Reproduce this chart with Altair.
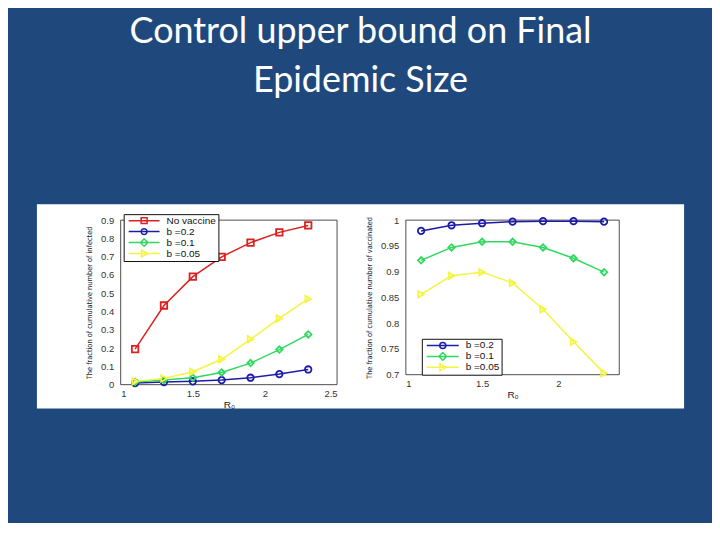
import altair as alt
import pandas as pd

# ---------------- data ----------------
R0 = [1.1, 1.3, 1.5, 1.7, 1.9, 2.1, 2.3]

left_names = ["No vaccine", "b =0.2", "b =0.1", "b =0.05"]
inf_none = [0.194, 0.433, 0.591, 0.699, 0.777, 0.833, 0.871]
inf_b02 = [0.009, 0.014, 0.018, 0.025, 0.038, 0.058, 0.083]
inf_b01 = [0.014, 0.025, 0.038, 0.067, 0.118, 0.192, 0.275]
inf_b005 = [0.018, 0.034, 0.071, 0.139, 0.248, 0.362, 0.469]

right_names = ["b =0.2", "b =0.1", "b =0.05"]
vac_b02 = [0.979, 0.990, 0.994, 0.997, 0.998, 0.998, 0.997]
vac_b01 = [0.922, 0.947, 0.958, 0.958, 0.947, 0.926, 0.899]
vac_b005 = [0.856, 0.892, 0.899, 0.878, 0.827, 0.764, 0.703]

left_xticks = [1, 1.5, 2, 2.5]
left_yticks = [0, 0.1, 0.2, 0.3, 0.4, 0.5, 0.6, 0.7, 0.8, 0.9]
right_xticks = [1, 1.5, 2]
right_yticks = [0.7, 0.75, 0.8, 0.85, 0.9, 0.95, 1]

# ---------------- styles ----------------
RED, BLUE, GREEN, YELLOW = "#dd2020", "#1c1caa", "#30d860", "#f4f442"
left_colors = [RED, BLUE, GREEN, YELLOW]
right_colors = [BLUE, GREEN, YELLOW]
left_shapes = ["square", "circle", "diamond", "triangle-right"]
right_shapes = ["circle", "diamond", "triangle-right"]

LEG_SQUARE = "M-1,0H1M-0.19,-0.19H0.19V0.19H-0.19Z"
LEG_CIRCLE = "M-1,0H1M0.19,0A0.19,0.19,0,1,1,-0.19,0A0.19,0.19,0,1,1,0.19,0Z"
LEG_DIAMOND = "M-1,0H1M0,-0.24L0.24,0L0,0.24L-0.24,0Z"
LEG_TRI = "M-1,0H1M-0.17,-0.22L0.24,0L-0.17,0.22Z"
left_leg_shapes = [LEG_SQUARE, LEG_CIRCLE, LEG_DIAMOND, LEG_TRI]
right_leg_shapes = [LEG_CIRCLE, LEG_DIAMOND, LEG_TRI]

FONT = "Liberation Sans"
NARROW = "Liberation Sans Narrow, DejaVu Sans Condensed, Liberation Sans"


def long_df(names, series):
    rows = []
    for name, vals in zip(names, series):
        for x, y in zip(R0, vals):
            rows.append({"R0": x, "value": y, "series": name})
    return pd.DataFrame(rows)


left_df = long_df(left_names, [inf_none, inf_b02, inf_b01, inf_b005])
right_df = long_df(right_names, [vac_b02, vac_b01, vac_b005])


def axis_x(values):
    return alt.Axis(values=values, format="~g", title="R\u2080", grid=False,
                    ticks=False, domain=False, labelPadding=4, titlePadding=1,
                    labelFont=FONT, labelFontSize=9.5, labelColor="#333",
                    titleFont=FONT, titleFontSize=10, titleFontWeight="normal",
                    titleColor="#222", zindex=1)


def axis_y(values, title):
    return alt.Axis(values=values, format="~g", title=title, grid=False,
                    ticks=False, domain=False, labelPadding=7, titlePadding=7,
                    labelFont=FONT, labelFontSize=9.5, labelColor="#333",
                    titleFont=NARROW, titleFontSize=7.4, titleFontWeight="normal",
                    titleColor="#222", zindex=1)


def color_expr(names, colors):
    parts = [f"datum.value === '{n}' ? '{c}'" for n, c in zip(names, colors)]
    return " : ".join(parts) + " : '#000'"


def panel(df, names, colors, shapes, leg_shapes, xdom, xticks, ydom, yticks,
          ytitle, w, h, legx, legy, sym, pad, clip, extra=None):
    base = alt.Chart(df)
    x = alt.X("R0:Q", scale=alt.Scale(domain=xdom, nice=False, zero=False),
              axis=axis_x(xticks))
    y = alt.Y("value:Q", scale=alt.Scale(domain=ydom, nice=False, zero=False),
              axis=axis_y(yticks, ytitle))
    col = alt.Color("series:N", scale=alt.Scale(domain=names, range=colors),
                    legend=None)
    layers = []
    if extra is not None:
        layers.append(extra)
    # plot frame (box)
    layers.append(
        alt.Chart(alt.Data(values=[{}]))
        .mark_rect(fill="transparent", stroke="#222", strokeWidth=0.8)
        .encode(x=alt.value(0), x2=alt.value("width"),
                y=alt.value(0), y2=alt.value("height")))
    layers.append(base.mark_line(strokeWidth=1.5).encode(x=x, y=y, color=col))
    for name, shp in zip(names, shapes):
        layers.append(
            base.transform_filter(alt.datum.series == name)
            .mark_point(filled=False, strokeWidth=1.8, size=42, opacity=1, shape=shp)
            .encode(x=x, y=y, color=col))
    leg = alt.Legend(
        title=None, orient="none", legendX=legx, legendY=legy,
        symbolSize=sym, symbolStrokeWidth=1.5, clipHeight=clip,
        padding=pad, rowPadding=0, symbolOffset=2, labelOffset=6,
        labelFont=FONT, labelFontSize=10, labelColor="#111",
        strokeColor="#111", fillColor="white",
        symbolStrokeColor=alt.ExprRef(color_expr(names, colors)),
        symbolFillColor="transparent", symbolOpacity=1)
    layers.append(
        base.transform_filter("false")
        .mark_point(filled=False, strokeWidth=1.5, size=sym, opacity=1)
        .encode(
            x=x, y=y,
            shape=alt.Shape("series:N",
                            scale=alt.Scale(domain=names, range=leg_shapes),
                            legend=leg)))
    return (alt.layer(*layers)
            .resolve_scale(shape="independent")
            .resolve_legend(shape="independent")
            .properties(width=w, height=h))


# white panel behind both plots (decorative background)
panel_bg = alt.Chart(alt.Data(values=[{}])).mark_rect(color="white").encode(
    x=alt.value(-84), x2=alt.value(565), y=alt.value(-16), y2=alt.value(189))

left = panel(left_df, left_names, left_colors, left_shapes, left_leg_shapes,
             [1, 2.5], left_xticks, [0, 0.9], left_yticks,
             "The fraction of cumulative number of infected",
             217, 165, 3, -6, 961, 2, 9, extra=panel_bg)

right = panel(right_df, right_names, right_colors, right_shapes, right_leg_shapes,
              [1, 2.4], right_xticks, [0.7, 1], right_yticks,
              "The fraction of cumulative number of vaccinated",
              214, 155, 16, 119, 1024, 2, 9.3)

chart = alt.hconcat(left, right, spacing=69, bounds="flush").resolve_scale(
    x="independent", y="independent", color="independent",
    shape="independent").resolve_legend(shape="independent").properties(
    title=alt.TitleParams(["Control upper bound  on Final", "Epidemic Size"],
                          font="Lato", fontSize=36, fontWeight="normal",
                          color="white", anchor="middle", frame="bounds",
                          offset=104, lineHeight=49),
    padding={"left": 28, "right": 27, "top": 5, "bottom": 113},
    background="#1f497d",
).configure_view(stroke="transparent")

chart.save("out.html", embed_options={"renderer": "svg", "actions": False})
